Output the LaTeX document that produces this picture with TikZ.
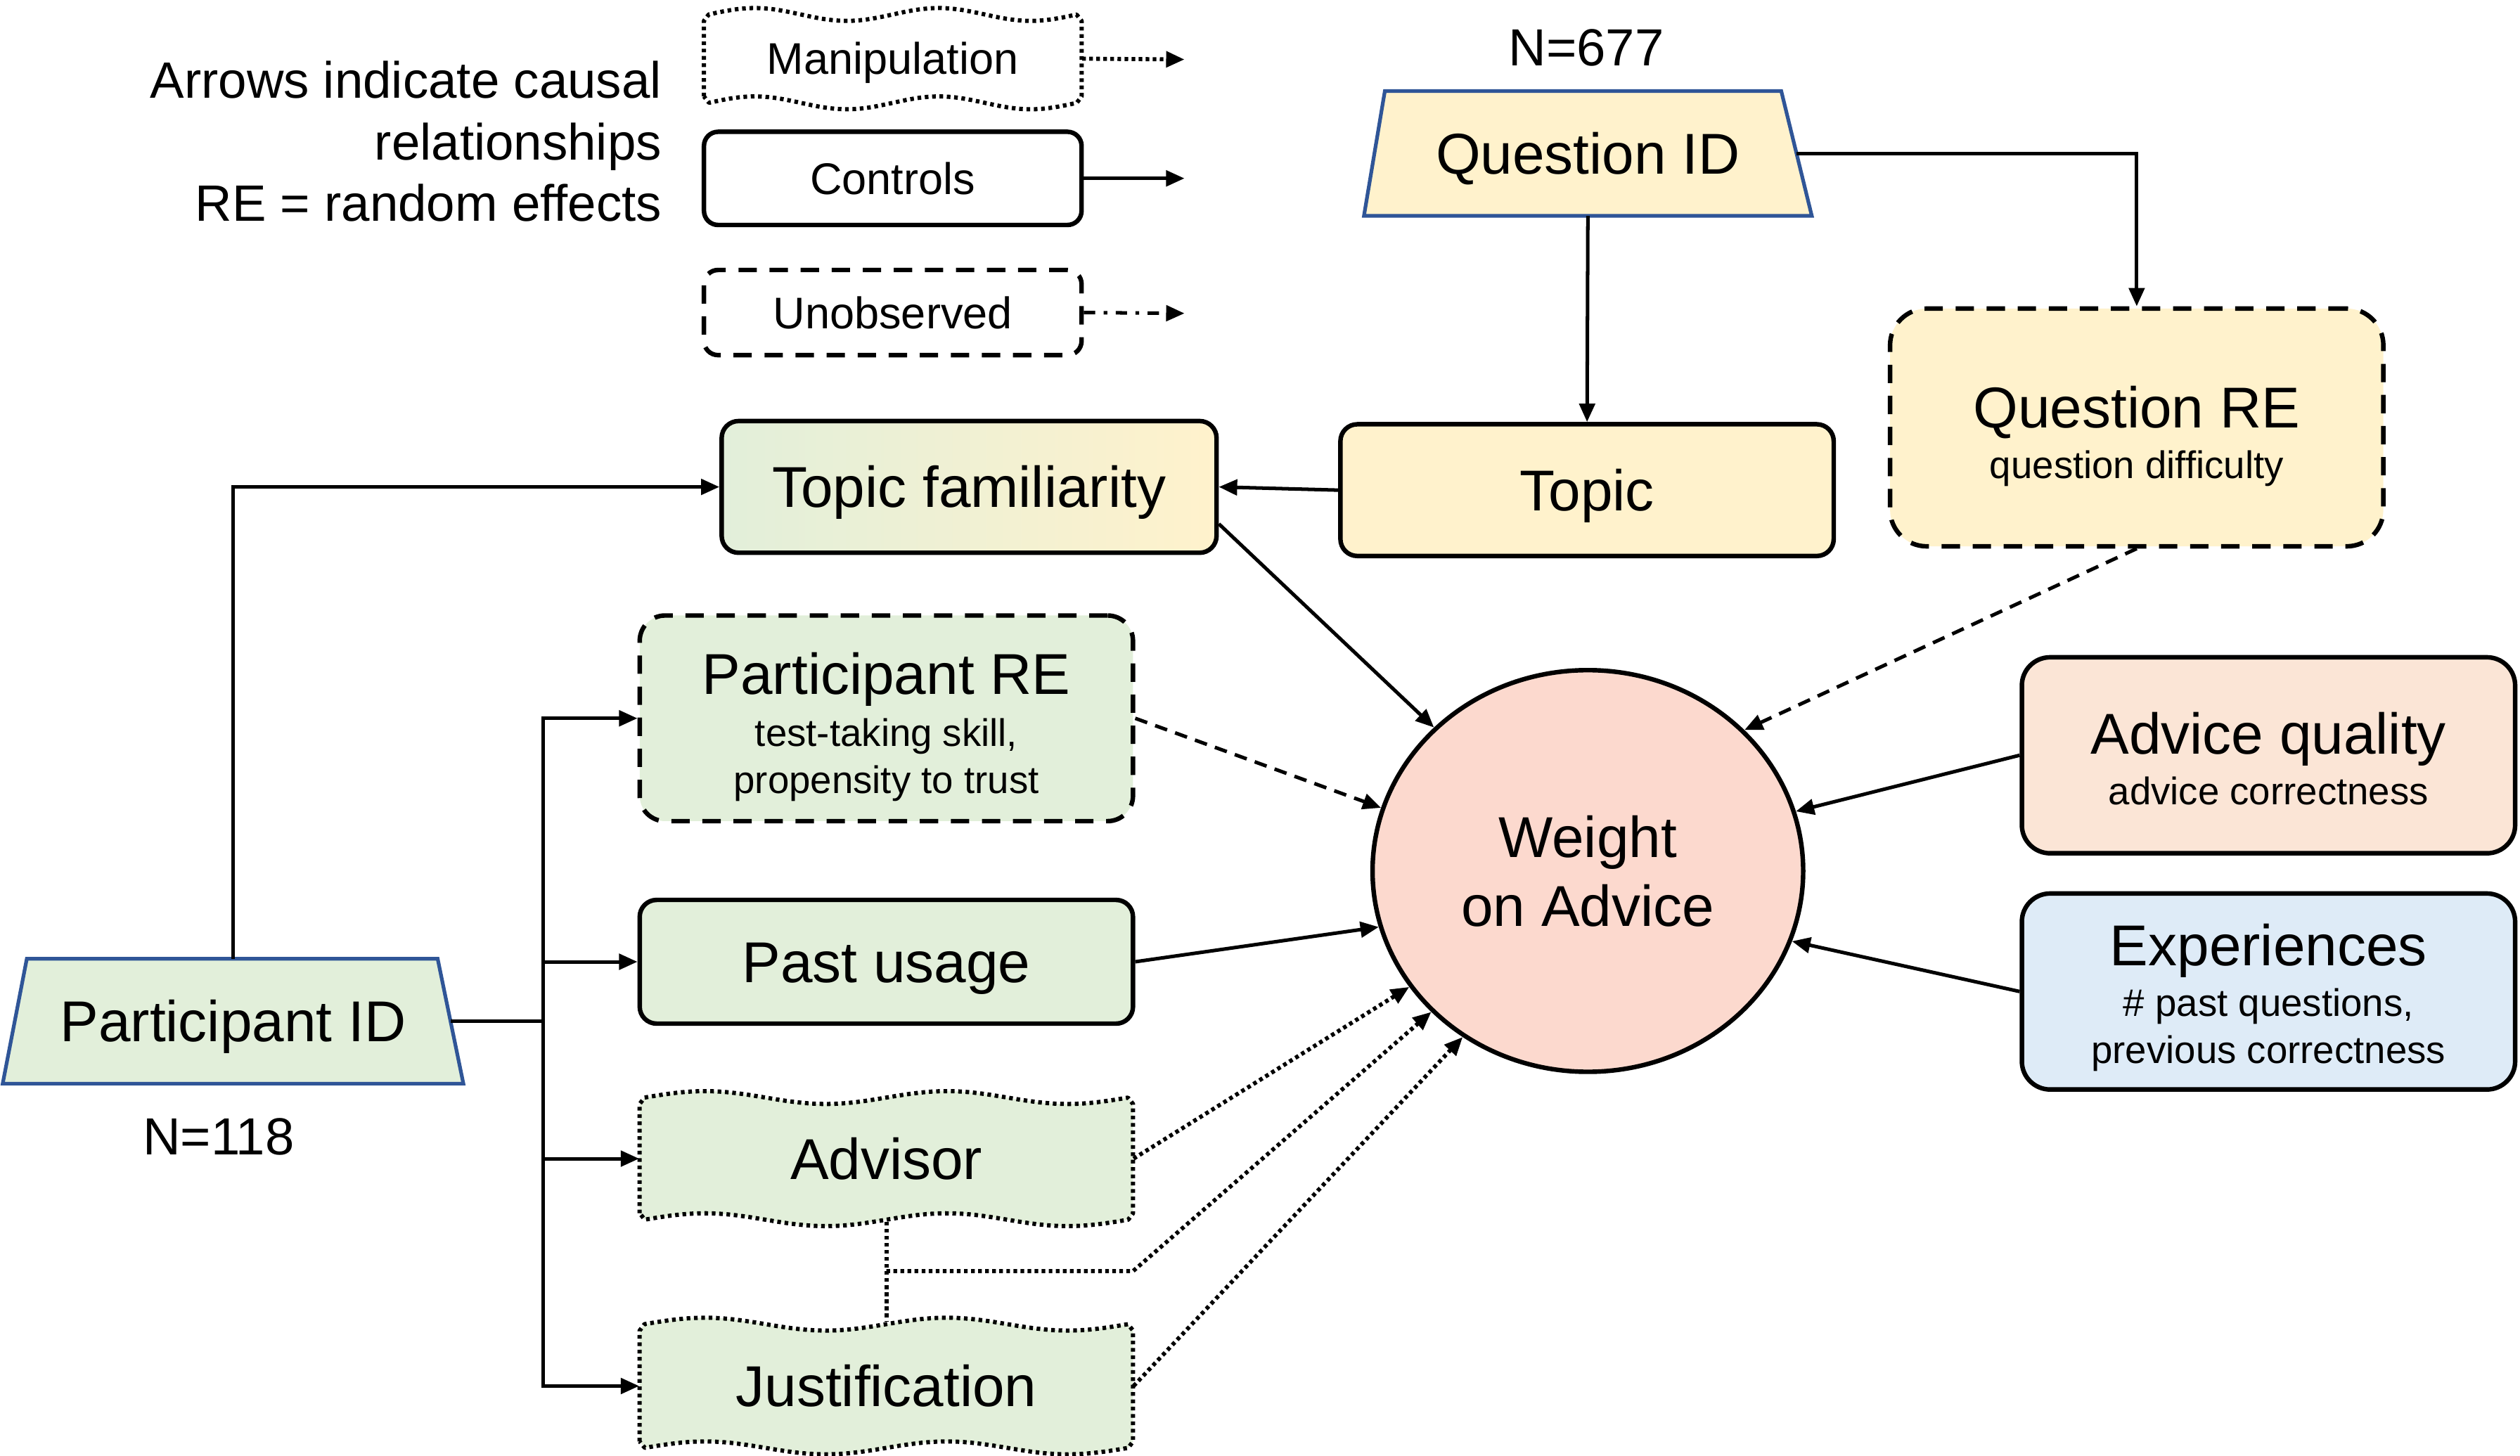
\documentclass[tikz,border=0pt]{standalone}
\usepackage{fontspec}
\setmainfont{Liberation Sans}
\usetikzlibrary{shapes.geometric,arrows.meta,backgrounds}
\definecolor{grn}{HTML}{E2EFDA}
\definecolor{ylw}{HTML}{FFF2CC}
\definecolor{pch}{HTML}{FBE5D6}
\definecolor{lbl}{HTML}{DEEBF7}
\definecolor{pnk}{HTML}{FCD9CE}
\definecolor{trb}{HTML}{2F5597}
\newcommand\bigf{\fontsize{20.4}{24.4}\selectfont}
\newcommand\smf{\fontsize{13.6}{16.4}\selectfont}
\newcommand\lgf{\fontsize{15.7}{18.8}\selectfont}
\newcommand\ntf{\fontsize{18.1}{21.8}\selectfont}
\newcommand\nnf{\fontsize{18.5}{22}\selectfont}
% wavy dotted box: x0 y0 x1 y1 fill
\newcommand\wavybox[5]{%
  \draw[line width=1.5pt, dash pattern=on 1.3pt off 1.3pt, fill=#5, line join=round]
    (#1,#4-5) -- (#1,#2+5)
    -- plot[domain=0:1,samples=80,variable=\t] ({#1+3+\t*(#3-#1-6)},{#2+1-4*sin(720*\t)})
    -- (#3,#2+5) -- (#3,#4-5)
    -- plot[domain=1:0,samples=80,variable=\t] ({#1+3+\t*(#3-#1-6)},{#4-1-4*sin(720*\t)})
    -- cycle;}
\begin{document}
\begin{tikzpicture}[x=0.02cm,y=-0.02cm,
  conn/.style={line width=1.25pt},
  arr/.style={conn,-{Triangle[length=6.5pt,width=5.5pt]}},
  dashconn/.style={arr, dash pattern=on 4.5pt off 3pt},
  dotconn/.style={arr, line width=1.45pt, dash pattern=on 1.3pt off 1.2pt},
  dotline/.style={conn, line width=1.45pt, dash pattern=on 1.3pt off 1.2pt},
  dashdotconn/.style={arr, dash pattern=on 4pt off 3pt on 1.3pt off 3pt},
  rbox/.style={rectangle, draw, line width=1.6pt, rounded corners=6pt, inner sep=0pt,
    font=\bigf, text height=14.6pt, text depth=0pt, minimum width=6.14cm},
  dbox/.style={rbox, dash pattern=on 6.5pt off 4.5pt},
  wnode/.style={rectangle, inner sep=0pt, minimum width=6.14cm,
    font=\bigf, text height=14.6pt, text depth=0pt},
  lbox/.style={rectangle, draw, line width=1.6pt, rounded corners=5pt, inner sep=0pt,
    font=\lgf, text height=11.2pt, text depth=0pt, minimum width=4.7cm},
  lwnode/.style={rectangle, inner sep=0pt, minimum width=4.7cm,
    font=\lgf, text height=11.2pt, text depth=0pt},
  trapnode/.style={rectangle, inner sep=0pt, font=\bigf, text height=14.6pt, text depth=0pt,
    minimum height=1.54cm},
  trapline/.style={draw=trb, line width=1.3pt},
  big/.style={font=\bigf, anchor=base, inner sep=0pt},
  small/.style={font=\smf, anchor=base, inner sep=0pt},
]
\useasboundingbox (0,0) rectangle (1568,906);

% ---------- legend ----------
\node[anchor=east, align=right, font=\ntf, inner sep=0pt] (note) at (412,88)
  {Arrows indicate causal\\relationships\\RE = random effects};
\wavybox{438}{8}{673}{65}{white}
\node[lwnode, minimum height=1.14cm] (manip) at (555.5,36.5) {Manipulation};
\node[lbox, minimum height=1.16cm] (ctl) at (555.5,111) {Controls};
\node[lbox, dash pattern=on 6.5pt off 4.5pt, minimum height=1.06cm] (unobs) at (555.5,194.5) {Unobserved};
\coordinate (manipend) at (737,37);
\coordinate (ctlend) at (737,111);
\coordinate (unobsend) at (737,195);
\draw[dotconn] (manip.east) -- (manipend);
\draw[arr] (ctl.east) -- (ctlend);
\draw[dashdotconn] (unobs.east) -- (unobsend);

% ---------- question side ----------
\node[font=\nnf, anchor=base, inner sep=0pt] (n677) at (987,40.7) {N=677};
\node[trapnode, minimum width=5.56cm] (qid) at (988,95.5) {Question ID};
\begin{pgfonlayer}{background}
\filldraw[trapline, fill=ylw] (qid.south west) -- (qid.south east)
  -- ([xshift=-0.38cm]qid.north east) -- ([xshift=0.26cm]qid.north west) -- cycle;
\end{pgfonlayer}
\node[rbox, fill=ylw, minimum height=1.64cm] (topic) at (987.5,305) {Topic};
\node[dbox, fill=ylw, rounded corners=13pt, minimum height=2.96cm] (qre) at (1329.5,266) {};
\node[big] (qret) at (1329.5,266) {Question RE};
\node[small] (qres) at (1329.5,297.6) {question difficulty};

% ---------- participant side ----------
\node[rbox, left color=grn, right color=ylw, minimum width=6.16cm, minimum height=1.64cm] (tf) at (603,303) {Topic familiarity};
\node[dbox, fill=grn, rounded corners=9pt, minimum height=2.56cm] (pre) at (551.5,447) {};
\node[big] (pret) at (551.5,432) {Participant RE};
\node[small] (pres1) at (551.5,464.6) {test-taking skill,};
\node[small] (pres2) at (551.5,493.6) {propensity to trust};
\node[rbox, fill=grn, minimum height=1.54cm] (pu) at (551.5,598.5) {Past usage};
\wavybox{398}{682}{705}{760}{grn}
\node[wnode, minimum height=1.56cm] (adv) at (551.5,721) {Advisor};
\wavybox{398}{823}{705}{902}{grn}
\node[wnode, minimum height=1.58cm] (just) at (551.5,862.5) {Justification};
\node[trapnode, minimum width=5.72cm] (pid) at (145,635.5) {Participant ID};
\begin{pgfonlayer}{background}
\filldraw[trapline, fill=grn] (pid.south west) -- (pid.south east)
  -- ([xshift=-0.32cm]pid.north east) -- ([xshift=0.30cm]pid.north west) -- cycle;
\end{pgfonlayer}
\node[font=\nnf, anchor=base, inner sep=0pt] (n118) at (136,718.7) {N=118};

% ---------- outcome and right side ----------
\node[ellipse, draw, line width=1.6pt, fill=pnk, minimum width=5.36cm, minimum height=5cm,
  inner sep=0pt, align=center, font=\bigf] (woa) at (988,542) {Weight\\on Advice};
\node[rbox, fill=pch, rounded corners=10pt, minimum height=2.44cm] (aq) at (1411.5,470) {};
\node[big] (aqt) at (1411.5,469) {Advice quality};
\node[small] (aqs) at (1411.5,500.6) {advice correctness};
\node[rbox, fill=lbl, rounded corners=10pt, minimum height=2.44cm] (exp) at (1411.5,617) {};
\node[big] (expt) at (1411.5,601) {Experiences};
\node[small] (exps1) at (1411.5,632.6) {\# past questions,};
\node[small] (exps2) at (1411.5,661.6) {previous correctness};

% ---------- connectors ----------
\draw[arr] (qid.south) -- (topic.north);
\draw[arr] ([xshift=-0.19cm]qid.east) -| (qre.north);
\draw[arr] (topic.west) -- (tf.east);
\draw[arr] (pid.north) |- (tf.west);
\coordinate (bus) at (338,635.5);
\draw[conn] ([xshift=-0.16cm]pid.east) -- (bus);
\draw[arr] (bus |- just.west) -- (bus |- pre.west) -- (pre.west);
\draw[arr, line cap=rect] (bus |- just.west) -- (just.west);
\draw[arr] (bus |- pu.west) -- (pu.west);
\draw[arr] (bus |- adv.west) -- (adv.west);

\draw[arr] ([yshift=-0.46cm]tf.east) -- (woa.137);
\draw[dashconn] (qre.south) -- (woa.42);
\draw[dashconn] (pre.east) -- (woa.163);
\draw[arr] (pu.east) -- (woa.195);
\draw[arr] (aq.west) -- (woa.16);
\draw[arr] (exp.west) -- (woa.341);
\draw[dotconn] (adv.east) -- (woa.213);
\draw[dotline] (adv.south) -- (just.north);
\coordinate (mid) at (551.5,791);
\coordinate (bend) at (705,791);
\draw[dotconn] (mid) -- (bend) -- (woa.222);
\draw[dotconn] (just.east) -- (woa.233);
\end{tikzpicture}
\end{document}
